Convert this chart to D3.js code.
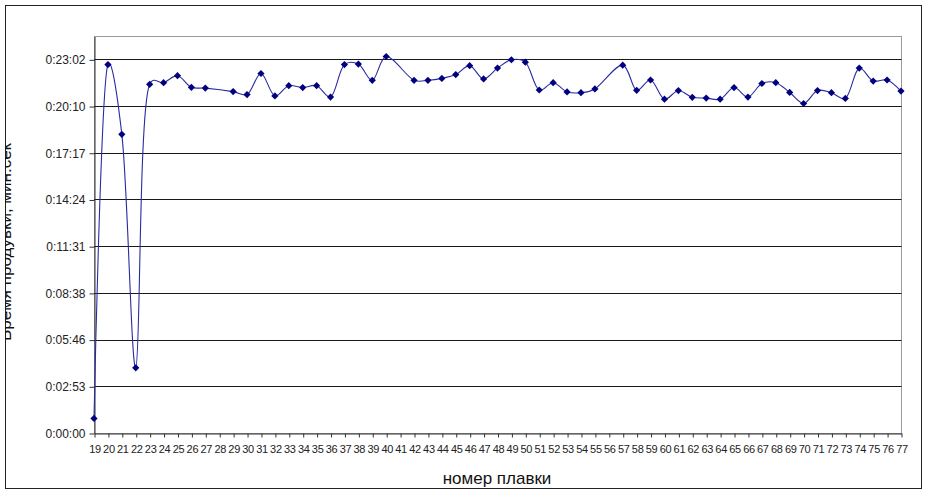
<!DOCTYPE html>
<html>
<head>
<meta charset="utf-8">
<script src="https://cdn.jsdelivr.net/npm/d3@7"></script>
<style>
  html, body { margin: 0; padding: 0; background: #fff; }
  svg { display: block; }
</style>
</head>
<body>
<svg id="chart" width="929" height="503"></svg>
<script>
// ---- data ----
const categories = [19,20,21,22,23,24,25,26,27,28,29,30,31,32,33,34,35,36,37,38,39,40,
  41,42,43,44,45,46,47,48,49,50,51,52,53,54,55,56,57,58,59,60,61,62,63,64,65,66,67,68,
  69,70,71,72,73,74,75,76,77];
// blowing time in seconds (null = no measurement)
const seconds = [54,1363,1105,241,1290,1296,1322,1279,1276,null,1263,1252,1330,1247,1285,
  1278,1285,1243,1363,1365,1305,1393,null,1305,1305,1312,1326,1359,1310,1350,1381,1372,
  1269,1296,1262,1259,1273,null,1361,1268,1306,1235,1267,1242,1239,1235,1278,1243,1293,
  1296,1260,1219,1267,1259,1238,1350,1302,1306,1265];
const yTickValues = [0,172.8,345.6,518.4,691.2,864,1036.8,1209.6,1382.4];
const yTickLabels = ["0:00:00","0:02:53","0:05:46","0:08:38","0:11:31","0:14:24","0:17:17","0:20:10","0:23:02"];
const yMax = 1468.8;
const xTitle = "номер плавки";
const yTitle = "Время продувки, мин:сек";

// ---- layout ----
const svg = d3.select("#chart");
const plot = {left: 94, right: 901, top: 36, bottom: 433};
const x = d3.scalePoint().domain(categories).range([plot.left, plot.right]);
const y = d3.scaleLinear().domain([0, yMax]).range([plot.bottom, plot.top]);

svg.append("defs").append("clipPath").attr("id", "outer")
  .append("rect").attr("x", 5.5).attr("y", 5.5).attr("width", 916).attr("height", 483);

// outer chart border
svg.append("rect").attr("x", 5.5).attr("y", 5.5).attr("width", 916).attr("height", 483)
  .attr("fill", "#fff").attr("stroke", "#222").attr("stroke-width", 1);

// plot area border (top/right gray)
svg.append("rect").attr("x", plot.left + 0.5).attr("y", plot.top + 0.5)
  .attr("width", plot.right - plot.left).attr("height", plot.bottom - plot.top)
  .attr("fill", "#fff").attr("stroke", "#9a9a9a").attr("stroke-width", 1);

// gridlines
svg.append("g").selectAll("line").data(yTickValues.slice(1)).join("line")
  .attr("x1", plot.left).attr("x2", plot.right + 0.5)
  .attr("y1", d => Math.round(y(d)) + 0.5).attr("y2", d => Math.round(y(d)) + 0.5)
  .attr("stroke", "#1a1a1a").attr("stroke-width", 1);

// y axis
const yAxis = d3.axisLeft(y).tickValues(yTickValues)
  .tickFormat((d, i) => yTickLabels[i]).tickSize(5).tickSizeOuter(0).tickPadding(4);
const gy = svg.append("g").attr("transform", `translate(${plot.left + 0.5},0.5)`).call(yAxis);
gy.select(".domain").attr("stroke", "#333");
gy.selectAll(".tick line").attr("stroke", "#333");
gy.selectAll("text").attr("font-family", "'Liberation Sans', Arial, sans-serif")
  .attr("font-size", 12).attr("fill", "#222");

// x axis
const xAxis = d3.axisBottom(x).tickSize(4).tickSizeOuter(0).tickPadding(8);
const gx = svg.append("g").attr("transform", `translate(0.5,${plot.bottom + 0.5})`).call(xAxis);
gx.select(".domain").attr("stroke", "#333");
gx.selectAll(".tick line").attr("stroke", "#333");
gx.selectAll("text").attr("font-family", "'Liberation Sans', Arial, sans-serif")
  .attr("font-size", 11).attr("fill", "#222").attr("letter-spacing", "-0.3px");

// line
const pts = categories.map((c, i) => ({c, v: seconds[i]})).filter(d => d.v != null);
const line = d3.line().x(d => x(d.c)).y(d => y(d.v)).curve(d3.curveCatmullRom.alpha(0.35));
svg.append("path").datum(pts).attr("d", line)
  .attr("fill", "none").attr("stroke", "#2a2aa0").attr("stroke-width", 1.1);

// markers
svg.append("g").selectAll("path").data(pts).join("path")
  .attr("d", d3.symbol(d3.symbolSquare, 26))
  .attr("transform", d => `translate(${x(d.c)},${y(d.v)}) rotate(45)`)
  .attr("fill", "#000080");

// axis titles
svg.append("text").attr("x", 497).attr("y", 484).attr("text-anchor", "middle")
  .attr("font-family", "'Liberation Sans', Arial, sans-serif").attr("font-size", 17)
  .attr("fill", "#111").text(xTitle);
svg.append("g").attr("clip-path", "url(#outer)")
  .append("text").attr("transform", "translate(11,242) rotate(-90)").attr("text-anchor", "middle")
  .attr("font-family", "'Liberation Sans', Arial, sans-serif").attr("font-size", 17)
  .attr("fill", "#111").text(yTitle);
</script>
</body>
</html>
